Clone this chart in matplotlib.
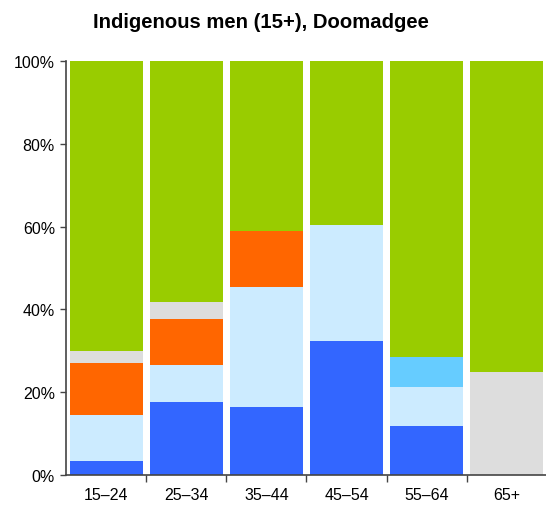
import matplotlib
matplotlib.use("Agg")
import matplotlib.pyplot as plt
from matplotlib.ticker import FixedLocator, PercentFormatter

categories = ["15\u201324", "25\u201334", "35\u201344", "45\u201354", "55\u201364", "65+"]
blue = [3.5, 17.6, 16.5, 32.4, 11.8, 0.0]
light_blue = [10.9, 8.9, 28.9, 28.0, 9.5, 0.0]
sky_blue = [0.0, 0.0, 0.0, 0.0, 7.2, 0.0]
orange = [12.7, 11.3, 13.6, 0.0, 0.0, 0.0]
grey = [2.9, 3.9, 0.0, 0.0, 0.0, 25.0]
green = [70.0, 58.3, 41.0, 39.6, 71.5, 75.0]

series = [
    (blue, "#3366FF"),
    (light_blue, "#CCEBFF"),
    (sky_blue, "#66CCFF"),
    (orange, "#FF6600"),
    (grey, "#DDDDDD"),
    (green, "#99CC00"),
]

plt.rcParams["font.family"] = ["Liberation Sans", "DejaVu Sans"]

fig = plt.figure(figsize=(5.46, 5.06), dpi=100)
ax = fig.add_axes([66 / 546, 30 / 506, 481 / 546, 414 / 506])

x = list(range(len(categories)))
bottom = [0.0] * len(categories)
for vals, col in series:
    ax.bar(x, vals, bottom=bottom, width=0.91, color=col, edgecolor="none")
    bottom = [b + v for b, v in zip(bottom, vals)]

ax.set_xlim(-0.5, len(categories) - 0.5)
ax.set_ylim(0, 100)
ax.set_yticks([0, 20, 40, 60, 80, 100])
ax.yaxis.set_major_formatter(PercentFormatter(decimals=0))
ax.set_xticks(x)
ax.set_xticklabels(categories)
ax.tick_params(axis="x", which="major", length=0, pad=9, labelsize=11.5)
ax.xaxis.set_minor_locator(FixedLocator([i + 0.5 for i in range(len(categories) - 1)]))
ax.tick_params(axis="x", which="minor", length=5, width=1, color="#444444", direction="out")
ax.tick_params(axis="y", length=4, width=1, color="#444444", labelsize=11.5, pad=4)
for s in ["top", "right"]:
    ax.spines[s].set_visible(False)
for s in ["left", "bottom"]:
    ax.spines[s].set_color("#444444")
    ax.spines[s].set_linewidth(1.2)

fig.text(261 / 546, 1 - 23 / 506, "Indigenous men (15+), Doomadgee",
         fontsize=14.6, fontweight="bold", ha="center", va="center")

fig.savefig("out.png", dpi=100)
